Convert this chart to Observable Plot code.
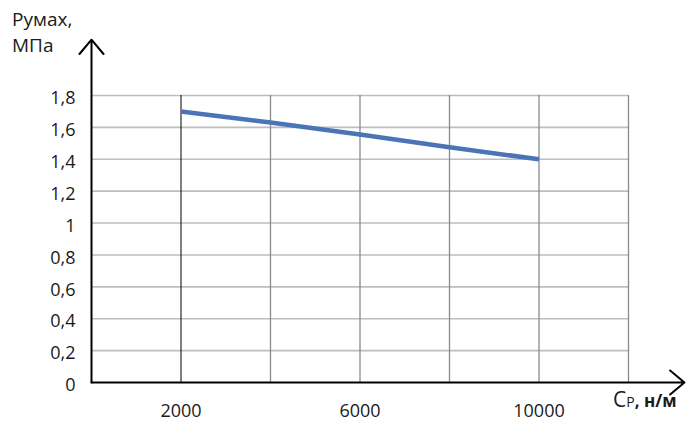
<!DOCTYPE html>
<html>
<head>
<meta charset="utf-8">
<script src="https://cdn.jsdelivr.net/npm/d3@7"></script>
<script src="https://cdn.jsdelivr.net/npm/@observablehq/plot@0.6"></script>
<style>
  body { margin: 0; background: #fff; }
  #wrap { position: relative; width: 699px; height: 442px; font-family: "Open Sans", sans-serif; color: #1a1a1a; }
  .lab { position: absolute; white-space: nowrap; line-height: 1; }
</style>
</head>
<body>
<div id="wrap">
  <div class="lab" style="left:12px; top:10px; font-size:19px;">Румах,</div>
  <div class="lab" style="left:12px; top:36px; font-size:19px;">МПа</div>
  <div class="lab" style="left:613px; top:389px;"><span style="font-size:21px;">С</span><span style="font-size:14px;">Р</span><span style="font-size:17px; font-weight:bold;">, н/м</span></div>
</div>
<script>
// Data
const stiffness = [2000, 4000, 6000, 8000, 10000];        // Ср, Н/м
const pressure  = [1.70, 1.63, 1.555, 1.475, 1.40];       // Румах, МПа
const yTicks = [0, 0.2, 0.4, 0.6, 0.8, 1, 1.2, 1.4, 1.6, 1.8];
const xGrid = [2000, 4000, 6000, 8000, 10000, 12000];
const xLabelTicks = [2000, 6000, 10000];
const xDomain = [0, 12000];
const yDomain = [0, 1.8];
const xArrowEnd = 13250;
const yArrowEnd = 2.15;

const data = stiffness.map((x, i) => ({x, y: pressure[i]}));
const fmt = d => String(d).replace(".", ",");

const chart = Plot.plot({
  width: 699,
  height: 442,
  marginLeft: 91,
  marginRight: 71,
  marginTop: 95,
  marginBottom: 60,
  style: {fontFamily: "Open Sans, sans-serif", color: "#1a1a1a", background: "transparent"},
  x: {domain: xDomain, label: null},
  y: {domain: yDomain, label: null},
  marks: [
    Plot.ruleY(yTicks.filter(d => d > 0), {stroke: "#bdbdbd", strokeWidth: 1.6, strokeOpacity: 1}),
    Plot.ruleX(xGrid, {stroke: d => d === 2000 ? "#000" : "#8a8a8a", strokeWidth: d => d === 2000 ? 1 : 1.3, y1: 0, y2: 1.8}),
    Plot.axisY({ticks: yTicks, tickSize: 0, tickPadding: 16, tickFormat: fmt, fontSize: 18, dy: 3}),
    Plot.axisX({ticks: xLabelTicks, tickSize: 0, tickPadding: 22, tickFormat: d => String(d), fontSize: 18}),
    Plot.line(data, {x: "x", y: "y", stroke: "#4a74b6", strokeWidth: 4.5, strokeLinecap: "butt"}),
    Plot.arrow([{x1: 0, y1: 0, x2: 0, y2: yArrowEnd}], {x1: "x1", y1: "y1", x2: "x2", y2: "y2", stroke: "#000", strokeWidth: 2, headLength: 14, headAngle: 80, bend: 0}),
    Plot.arrow([{x1: 0, y1: 0, x2: xArrowEnd, y2: 0}], {x1: "x1", y1: "y1", x2: "x2", y2: "y2", stroke: "#000", strokeWidth: 2, headLength: 14, headAngle: 80, bend: 0})
  ]
});
chart.style.position = "absolute";
chart.style.left = "0";
chart.style.top = "0";
document.getElementById("wrap").prepend(chart);
</script>
</body>
</html>
